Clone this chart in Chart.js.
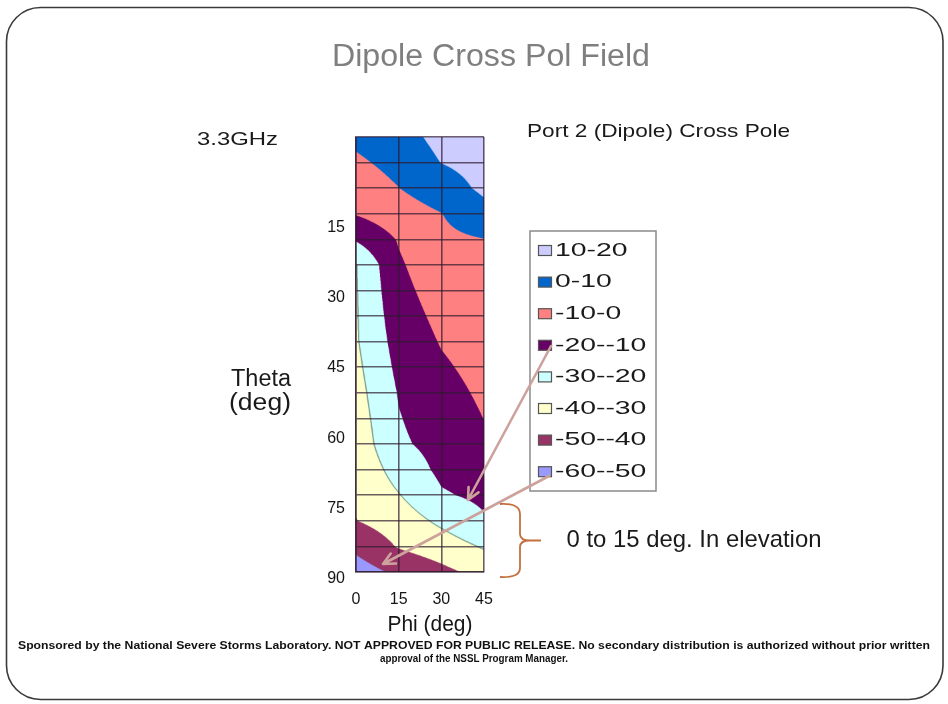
<!DOCTYPE html>
<html>
<head>
<meta charset="utf-8">
<script src="https://cdn.jsdelivr.net/npm/chart.js@4/dist/chart.umd.min.js"></script>
<style>
  html, body { margin: 0; padding: 0; background: #fff; }
  canvas { display: block; }
</style>
</head>
<body>
<canvas id="c" width="948" height="704"></canvas>
<script>
// Azimuth columns of the measurement grid (deg)
const phiDeg = [0, 15, 30, 45];

// Cross-pol field level (dB) down each phi column, one value per grid row (top row first)
const fieldPhi0  = [2.2, -1.6, -5.5, -9.4, -19.0, -30.4, -30.6, -30.8, -31.0, -32.3, -33.6, -34.9, -36.2, -37.5, -38.8, -40.2, -47.7, -54.7];
const fieldPhi15 = [6.0, 3.0, -0.1, -4.3, -9.3, -11.2, -12.8, -14.4, -16.1, -17.7, -19.4, -20.5, -21.5, -26.0, -30.5, -35.3, -39.3, -48.0];
const fieldPhi30 = [13.0, 10.2, 5.0, -0.2, -2.0, -3.8, -5.7, -7.6, -9.4, -11.3, -13.2, -15.0, -16.9, -18.0, -21.0, -28.0, -35.0, -42.5];
const fieldPhi45 = [16.0, 13.6, 12.0, 6.5, -0.2, -1.6, -3.0, -4.3, -5.7, -7.1, -8.5, -9.9, -12.5, -15.3, -18.1, -21.0, -29.1, -37.0];

// Contour bands (dB): label, lower bound, fill
const bandLabels = ['10-20', '0-10', '-10-0', '-20--10', '-30--20', '-40--30', '-50--40', '-60--50'];
const bandLow    = [10, 0, -10, -20, -30, -40, -50, -60];
const bandColors = ['#CCCCFF', '#0066CC', '#FF8080', '#660066', '#CCFFFF', '#FFFFCC', '#993366', '#9999FF'];

// Elevation tick labels (deg)
const thetaTicks = [15, 30, 45, 60, 75, 90];

const FONT = "'Liberation Sans', Arial, Helvetica, sans-serif";
const fieldCols = [fieldPhi0, fieldPhi15, fieldPhi30, fieldPhi45];
const rowCount = fieldPhi0.length;
const rowIndex = fieldPhi0.map((_, i) => i);
const gridColor = 'rgba(45, 25, 45, 0.7)';

function hexToRgb(h) {
  const n = parseInt(h.slice(1), 16);
  return [(n >> 16) & 255, (n >> 8) & 255, n & 255];
}
const bandRgb = bandColors.map(hexToRgb);

// Bilinear value of the field between grid nodes
function fieldAt(phi, row) {
  let ci = 0;
  while (ci < phiDeg.length - 2 && phi > phiDeg[ci + 1]) ci++;
  const u = Math.min(1, Math.max(0, (phi - phiDeg[ci]) / (phiDeg[ci + 1] - phiDeg[ci])));
  const r = Math.min(rowCount - 1, Math.max(0, row));
  const ri = Math.min(rowCount - 2, Math.floor(r));
  const v = r - ri;
  const a = fieldCols[ci][ri], b = fieldCols[ci + 1][ri];
  const c = fieldCols[ci][ri + 1], d = fieldCols[ci + 1][ri + 1];
  return a * (1 - u) * (1 - v) + b * u * (1 - v) + c * (1 - u) * v + d * u * v;
}

function bandOf(val) {
  for (let k = 0; k < bandLow.length; k++) if (val >= bandLow[k]) return k;
  return bandLow.length - 1;
}

// Text helper: draws text squeezed/stretched horizontally to a given width
function drawText(ctx, text, x, y, opt) {
  ctx.save();
  ctx.font = (opt.weight || 'normal') + ' ' + opt.size + 'px ' + (opt.family || FONT);
  ctx.fillStyle = opt.color || '#111';
  ctx.textBaseline = 'middle';
  const w = ctx.measureText(text).width;
  const sx = opt.width ? opt.width / w : (opt.sx || 1);
  let x0 = x;
  if (opt.align === 'center') x0 = x - (w * sx) / 2;
  else if (opt.align === 'right') x0 = x - w * sx;
  ctx.translate(x0, y);
  ctx.scale(sx, 1);
  ctx.textAlign = 'left';
  ctx.fillText(text, 0, 0);
  ctx.restore();
}

function arrow(ctx, x1, y1, x2, y2, color) {
  const ang = Math.atan2(y2 - y1, x2 - x1);
  const L = 13, spread = 0.45;
  ctx.save();
  ctx.strokeStyle = color;
  ctx.lineWidth = 2.6;
  ctx.lineCap = 'round';
  ctx.lineJoin = 'round';
  ctx.beginPath();
  ctx.moveTo(x1, y1);
  ctx.lineTo(x2, y2);
  ctx.moveTo(x2 - L * Math.cos(ang - spread), y2 - L * Math.sin(ang - spread));
  ctx.lineTo(x2, y2);
  ctx.lineTo(x2 - L * Math.cos(ang + spread), y2 - L * Math.sin(ang + spread));
  ctx.stroke();
  ctx.restore();
}

// Page background, slide frame and the filled contour field
const fieldPlugin = {
  id: 'contourField',
  beforeDraw(chart) {
    const { ctx, chartArea: a, scales } = chart;
    ctx.save();
    ctx.fillStyle = '#fff';
    ctx.fillRect(0, 0, chart.width, chart.height);
    ctx.strokeStyle = '#3a3a3a';
    ctx.lineWidth = 1.6;
    ctx.beginPath();
    ctx.roundRect(6.5, 7.5, 936.5, 692, 34);
    ctx.stroke();
    ctx.restore();

    const S = 3;
    const W = Math.round((a.right - a.left) * S), H = Math.round((a.bottom - a.top) * S);
    const off = document.createElement('canvas');
    off.width = W; off.height = H;
    const octx = off.getContext('2d');
    const img = octx.createImageData(W, H);
    const bands = new Uint8Array(W * H);
    const xs = scales.x, ys = scales.row;
    const phis = new Float64Array(W);
    for (let i = 0; i < W; i++) phis[i] = xs.getValueForPixel(a.left + (i + 0.5) / S);
    for (let j = 0; j < H; j++) {
      const row = ys.getValueForPixel(a.top + (j + 0.5) / S);
      for (let i = 0; i < W; i++) bands[j * W + i] = bandOf(fieldAt(phis[i], row));
    }
    const lineRgb = [128, 160, 140];
    const R = 2;
    for (let j = 0; j < H; j++) {
      for (let i = 0; i < W; i++) {
        const k = bands[j * W + i];
        let col = bandRgb[k];
        if (k === 4 || k === 5) {
          const other = 9 - k;
          let edge = false;
          for (let d = 1; d <= R && !edge; d++) {
            if (i + d < W && bands[j * W + i + d] === other) edge = true;
            else if (i - d >= 0 && bands[j * W + i - d] === other) edge = true;
            else if (j + d < H && bands[(j + d) * W + i] === other) edge = true;
            else if (j - d >= 0 && bands[(j - d) * W + i] === other) edge = true;
          }
          if (edge) col = lineRgb;
        }
        const p = (j * W + i) * 4;
        img.data[p] = col[0]; img.data[p + 1] = col[1]; img.data[p + 2] = col[2]; img.data[p + 3] = 255;
      }
    }
    octx.putImageData(img, 0, 0);
    ctx.save();
    ctx.imageSmoothingEnabled = true;
    ctx.imageSmoothingQuality = 'high';
    ctx.drawImage(off, a.left, a.top, a.right - a.left, a.bottom - a.top);
    ctx.restore();
  },
  afterDraw(chart) {
    const ctx = chart.ctx;

    // Legend box
    const lx = 530, ly = 231, lw = 126, lh = 260;
    ctx.save();
    ctx.fillStyle = '#fff';
    ctx.fillRect(lx, ly, lw, lh);
    ctx.strokeStyle = '#8a8a8a';
    ctx.lineWidth = 1.5;
    ctx.strokeRect(lx, ly, lw, lh);
    bandLabels.forEach((lab, i) => {
      const cy = 250.5 + i * 31.6;
      ctx.fillStyle = bandColors[i];
      ctx.fillRect(538.5, cy - 5, 13, 10);
      ctx.strokeStyle = '#555';
      ctx.lineWidth = 1.2;
      ctx.strokeRect(538.5, cy - 5, 13, 10);
      drawText(ctx, lab, 555, cy + 0.5, { size: 17.5, sx: 1.62, color: '#1a1a1a' });
    });
    ctx.restore();

    // Callout arrows from the legend into the plot
    const arrowColor = '#CDA29C';
    arrow(ctx, 551, 346, 468, 500, arrowColor);
    arrow(ctx, 549, 476, 383, 564, arrowColor);

    // Brace marking the low-elevation rows
    ctx.save();
    ctx.strokeStyle = '#C4703E';
    ctx.lineWidth = 1.8;
    ctx.beginPath();
    ctx.moveTo(500, 504);
    ctx.quadraticCurveTo(520, 503, 520, 514);
    ctx.lineTo(520, 534);
    ctx.quadraticCurveTo(520, 540.5, 530, 540.5);
    ctx.lineTo(541, 540.5);
    ctx.moveTo(530, 540.5);
    ctx.quadraticCurveTo(520, 540.5, 520, 547);
    ctx.lineTo(520, 568);
    ctx.quadraticCurveTo(520, 578, 500, 577);
    ctx.stroke();
    ctx.restore();

    drawText(ctx, 'Dipole Cross Pol Field', 491, 57, { size: 31, width: 318, color: '#7f7f7f', align: 'center' });
    drawText(ctx, '3.3GHz', 197, 140, { size: 19, width: 81, color: '#1a1a1a' });
    drawText(ctx, 'Port 2 (Dipole) Cross Pole', 527, 132, { size: 19, width: 263, color: '#1a1a1a' });
    drawText(ctx, 'Theta', 261, 380, { size: 23, width: 60, color: '#1a1a1a', align: 'center' });
    drawText(ctx, '(deg)', 260, 404, { size: 23, width: 62, color: '#1a1a1a', align: 'center' });
    drawText(ctx, 'Phi (deg)', 430, 625, { size: 22, width: 85, color: '#151515', align: 'center' });
    drawText(ctx, '0 to 15 deg. In elevation', 566.5, 540, { size: 24, width: 255, color: '#1a1a1a' });
    drawText(ctx, 'Sponsored by the National Severe Storms Laboratory. NOT APPROVED FOR PUBLIC RELEASE. No secondary distribution is authorized without prior written', 474, 646, { size: 10, weight: 'bold', width: 912, color: '#111', align: 'center' });
    drawText(ctx, 'approval of the NSSL Program Manager.', 474, 659, { size: 10, weight: 'bold', width: 188, color: '#111', align: 'center' });
  }
};

const nodes = [];
phiDeg.forEach((p) => rowIndex.forEach((r) => nodes.push({ x: p, y: r })));

new Chart(document.getElementById('c'), {
  type: 'scatter',
  data: {
    datasets: [{ label: 'grid nodes', data: nodes, pointRadius: 0, yAxisID: 'row' }]
  },
  options: {
    responsive: false,
    animation: false,
    devicePixelRatio: 1,
    layout: { padding: { left: 316, right: 464, top: 137, bottom: 66 } },
    plugins: { legend: { display: false }, tooltip: { enabled: false } },
    scales: {
      x: {
        type: 'linear', min: 0, max: 45,
        afterBuildTicks: (s) => { s.ticks = phiDeg.map((v) => ({ value: v })); },
        ticks: { font: { family: FONT, size: 16 }, color: '#151515', padding: 18 },
        grid: { color: gridColor, lineWidth: 1.6, drawTicks: false },
        border: { color: gridColor, width: 1.6 },
        afterFit: (s) => { s.height = 66; }
      },
      row: {
        type: 'linear', position: 'left', reverse: true, min: 0, max: rowCount - 1,
        afterBuildTicks: (s) => { s.ticks = rowIndex.map((v) => ({ value: v })); },
        ticks: { display: false },
        grid: { color: gridColor, lineWidth: 1.6, drawTicks: false },
        border: { color: gridColor, width: 1.6 },
        afterFit: (s) => { s.width = 0; }
      },
      theta: {
        type: 'linear', position: 'left', reverse: true, min: 0, max: 93,
        afterBuildTicks: (s) => { s.ticks = thetaTicks.map((v) => ({ value: v })); },
        ticks: { font: { family: FONT, size: 16 }, color: '#151515', padding: 11, labelOffset: 20.5 },
        grid: { display: false, drawTicks: false },
        border: { display: false },
        afterFit: (s) => { s.width = 40; }
      }
    }
  },
  plugins: [fieldPlugin]
});
</script>
</body>
</html>
